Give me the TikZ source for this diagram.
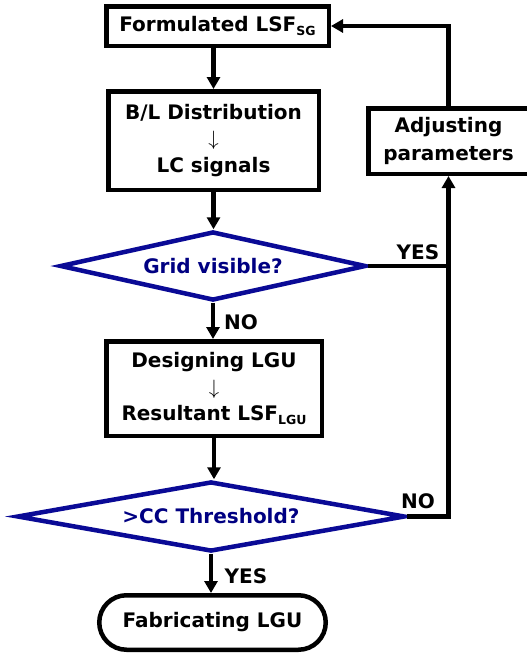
\documentclass[tikz,border=0pt]{standalone}
\usepackage{fontspec}
\setmainfont{DejaVu Sans}
\usetikzlibrary{shapes.geometric,shapes.misc,arrows.meta}

\definecolor{decblue}{RGB}{10,10,150}
\definecolor{dectext}{RGB}{0,0,130}

% lowered index for LSF names
\newcommand{\lowidx}[1]{\raisebox{-0.35ex}{\fontsize{12.5}{12.5}\selectfont #1}}
% thin arrow between the two lines of a box
\newcommand{\thenarrow}{$\downarrow$}

\tikzset{
  procbox/.style={draw, line width=4.5pt, inner sep=0pt, align=center,
    font=\bfseries\fontsize{20}{26.5}\selectfont},
  decbox/.style={draw=decblue, line width=4.5pt, shape=diamond, inner sep=0pt,
    text=dectext, font=\bfseries\fontsize{20}{23}\selectfont},
  endbox/.style={draw, line width=4.5pt, shape=rounded rectangle, inner sep=0pt,
    font=\bfseries\fontsize{20}{23}\selectfont},
  answer/.style={font=\bfseries\fontsize{20}{23}\selectfont, inner sep=0pt},
  line/.style={line width=4.5pt},
  arr/.style={line width=4.5pt, -{Triangle[length=12pt,width=13pt]}}
}

\begin{document}
\begin{tikzpicture}[x=1pt,y=-1pt]
\fill[white] (0,0) rectangle (527,656);
\useasboundingbox (0,0) rectangle (527,656);

% main column of steps
\node[procbox, minimum width=222.5pt, minimum height=39.5pt] (form) at (217.5,26)
  {Formulated LSF\lowidx{SG}};
\node[procbox, minimum width=210.5pt, minimum height=98.5pt] (dist) at (213.5,140.5)
  {B/L Distribution\\ \thenarrow\\ LC signals};
\node[decbox, aspect=4.4, minimum width=306pt, minimum height=69pt] (grid) at (213,266)
  {Grid visible?};
\node[procbox, minimum width=215.5pt, minimum height=94.5pt] (lgu) at (214,388.5)
  {Designing LGU\\ \thenarrow\\ Resultant LSF\lowidx{LGU}};
\node[decbox, aspect=5.5, minimum width=388pt, minimum height=70pt] (cc) at (211,516.5)
  {>CC Threshold?};
\node[endbox, minimum width=226.5pt, minimum height=54.5pt] (fab) at (212.5,622.5)
  {Fabricating LGU};

% feedback step on the right
\node[procbox, minimum width=160.5pt, minimum height=65.5pt,
  font=\bfseries\fontsize{20}{28}\selectfont] (adj) at (448.5,141)
  {Adjusting\\ parameters};

% answers
\node[answer] (yesgrid) at (418,252) {YES};
\node[answer] (nogrid) at (241,322) {NO};
\node[answer] (nocc) at (418,501) {NO};
\node[answer] (yescc) at (246,576) {YES};

% connectors
\draw[arr] (form.south -| dist.north) -- (dist.north);
\draw[arr] (dist.south) -- (dist.south |- grid.north);
\draw[arr] (grid.south) -- (grid.south |- lgu.north);
\draw[arr] (lgu.south) -- (lgu.south |- cc.north);
\draw[arr] (cc.south) -- (cc.south |- fab.north);
\draw[arr] (cc.east) -| (adj.south);
\draw[line] (grid.east) -- (grid.east -| adj.south);
\draw[arr] (adj.north) |- (form.east);
\end{tikzpicture}
\end{document}
